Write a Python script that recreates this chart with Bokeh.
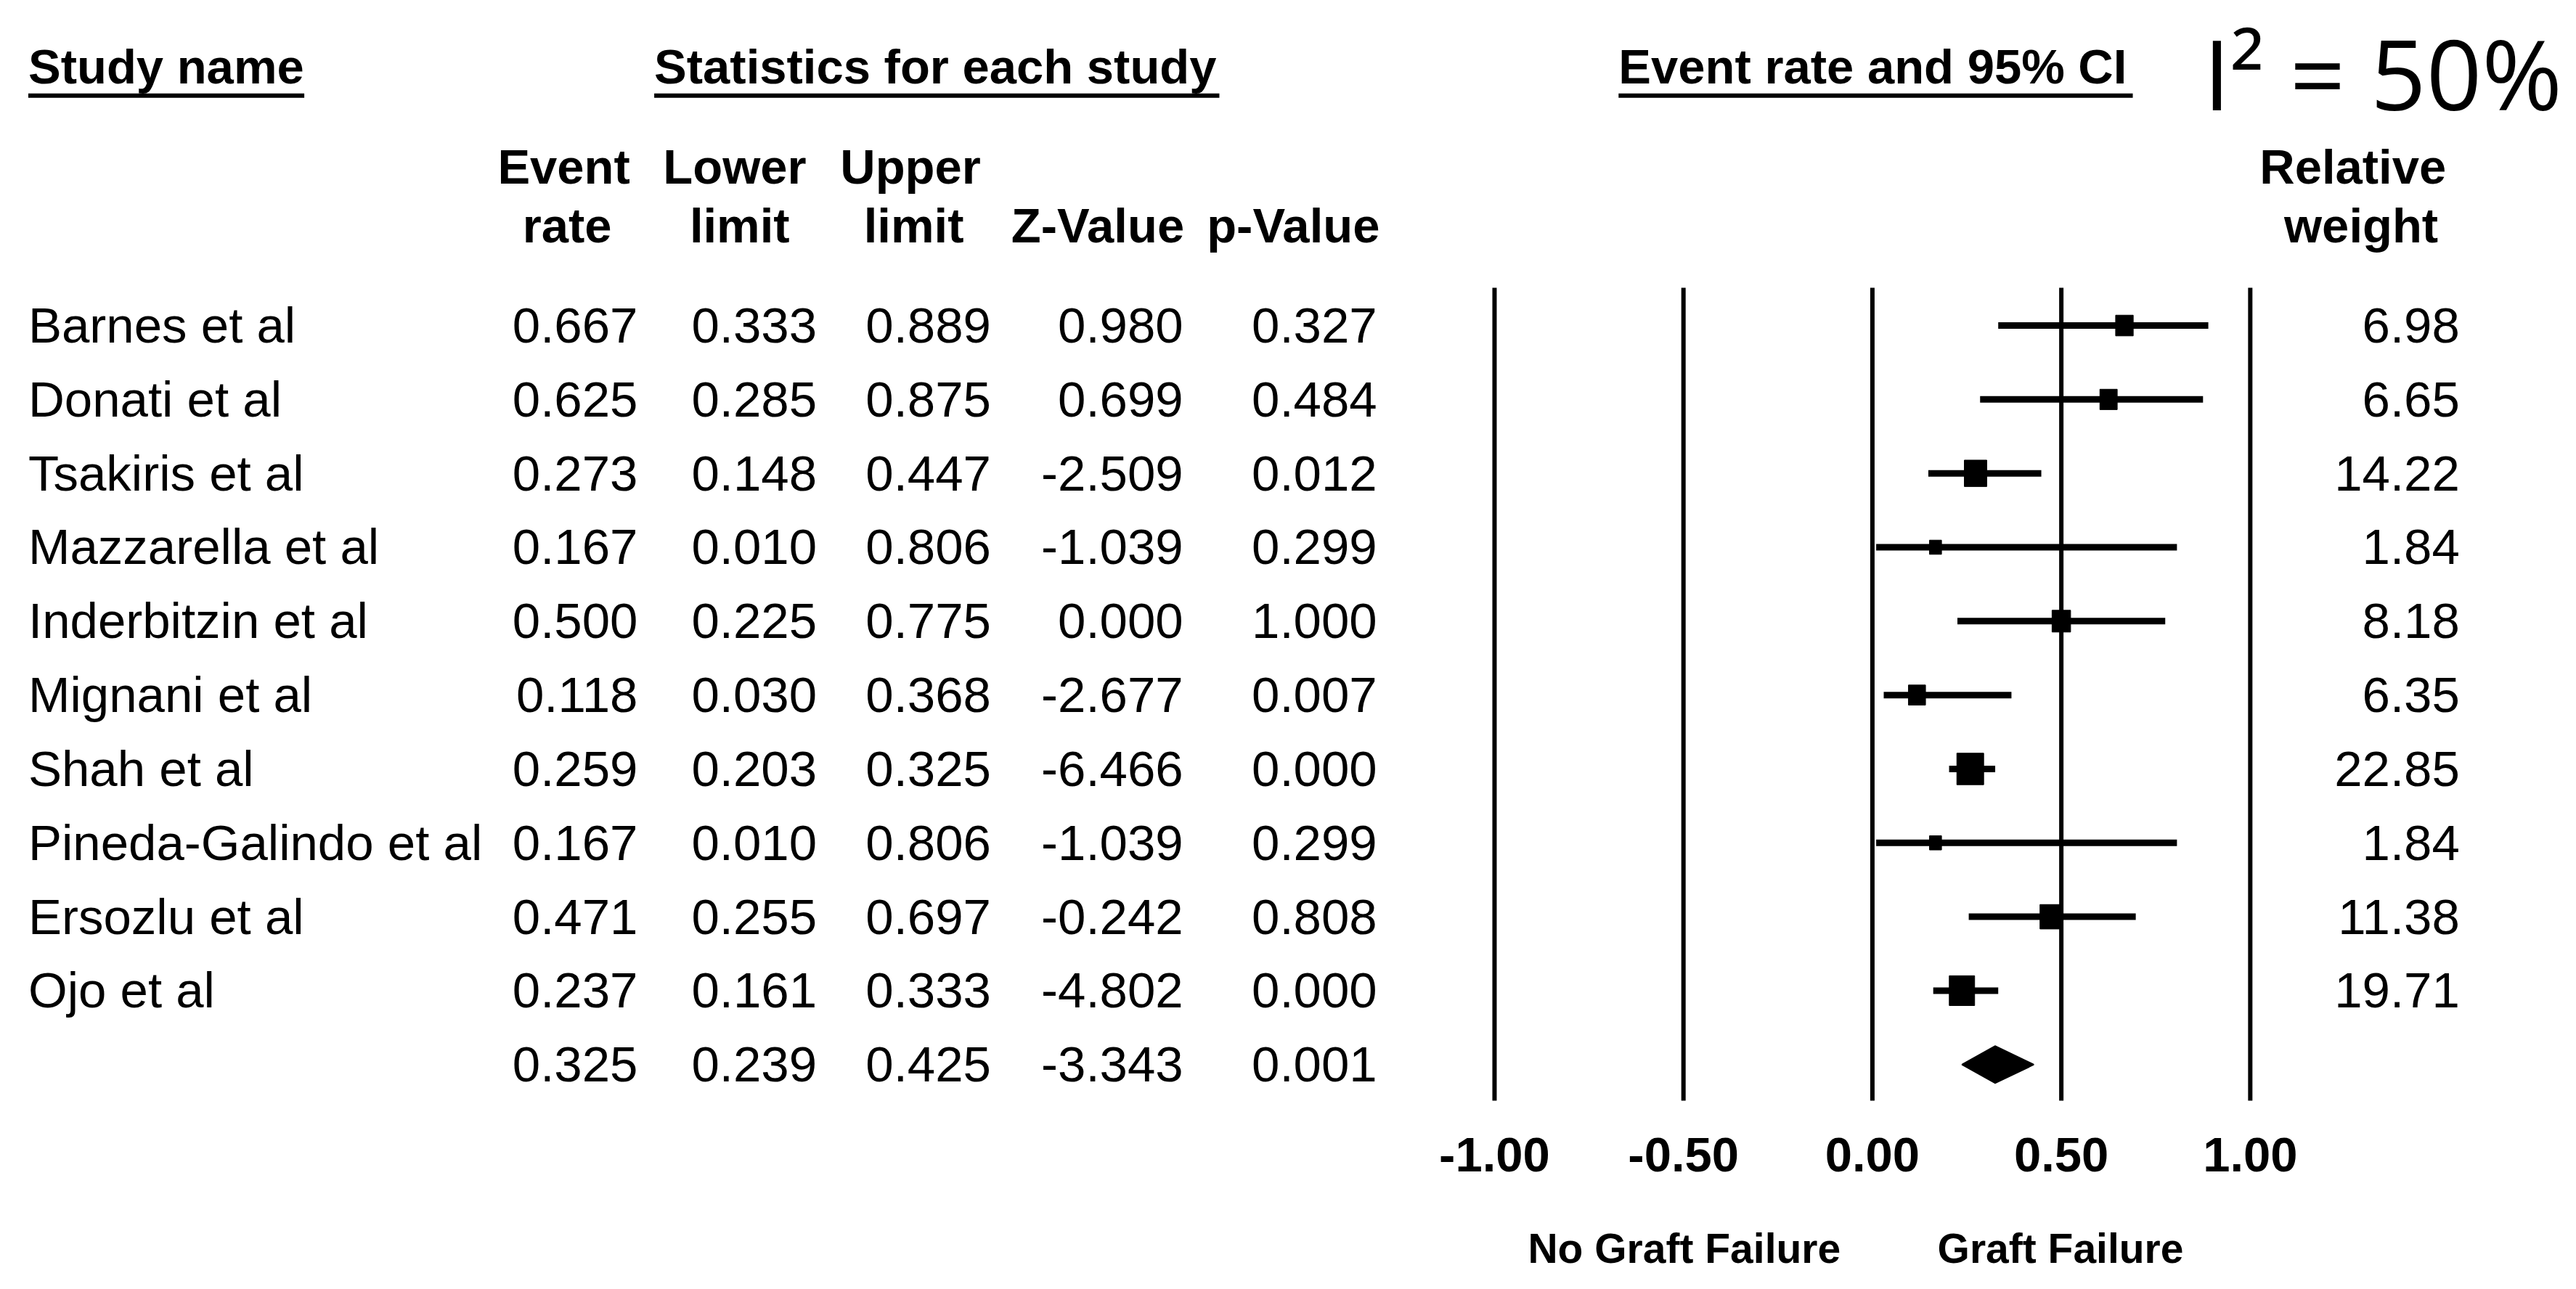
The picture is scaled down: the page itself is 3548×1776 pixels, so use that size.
from bokeh.plotting import figure
from bokeh.models import Range1d
from bokeh.embed import file_html
from bokeh.resources import INLINE
from bokeh.core.properties import value
import math

# ---------------- data ----------------
studies = ["Barnes et al", "Donati et al", "Tsakiris et al", "Mazzarella et al",
           "Inderbitzin et al", "Mignani et al", "Shah et al", "Pineda-Galindo et al",
           "Ersozlu et al", "Ojo et al"]
event_rate = [0.667, 0.625, 0.273, 0.167, 0.500, 0.118, 0.259, 0.167, 0.471, 0.237]
lower_limit = [0.333, 0.285, 0.148, 0.010, 0.225, 0.030, 0.203, 0.010, 0.255, 0.161]
upper_limit = [0.889, 0.875, 0.447, 0.806, 0.775, 0.368, 0.325, 0.806, 0.697, 0.333]
z_value = [0.980, 0.699, -2.509, -1.039, 0.000, -2.677, -6.466, -1.039, -0.242, -4.802]
p_value = [0.327, 0.484, 0.012, 0.299, 1.000, 0.007, 0.000, 0.299, 0.808, 0.000]
rel_weight = [6.98, 6.65, 14.22, 1.84, 8.18, 6.35, 22.85, 1.84, 11.38, 19.71]
summary = {"rate": 0.325, "lower": 0.239, "upper": 0.425, "z": -3.343, "p": 0.001}
ticks = [-1.0, -0.5, 0.0, 0.5, 1.0]
i2_text = "I\u00b2 = 50%"

# ---------------- layout helpers ----------------
W, H = 3532, 1760
S = 3548 / 1568.0           # reference design scale
X0 = 1139.5 * S             # pixel of x = 0
UX = 230 * S                # pixels per unit
Y0 = 198 * S                # pixel of row 0
UY = 45 * S                 # pixels per row


def fx(d):
    return (d * S - X0) / UX


def fy(d):
    return (d * S - Y0) / UY


FONT = value("Liberation Sans")
REG = "69px"
BOLD = "67px"

p = figure(width=W, height=H,
           x_range=Range1d(-X0 / UX, (W - X0) / UX),
           y_range=Range1d((H - Y0) / UY, -Y0 / UY),
           x_axis_type=None, y_axis_type=None,
           toolbar_location=None, output_backend="svg", min_border=0)
p.outline_line_color = None
p.background_fill_color = "white"
p.border_fill_color = "white"

n = len(studies)
rows = list(range(n))
sum_row = n

# ---------------- forest plot ----------------
p.segment(x0=ticks, y0=[fy(175)] * len(ticks), x1=ticks, y1=[fy(670)] * len(ticks),
          line_color="black", line_width=6)

p.segment(x0=lower_limit, y0=rows, x1=upper_limit, y1=rows,
          line_color="black", line_width=9)

sides = [10 + 7.0 * math.sqrt(w) for w in rel_weight]
p.rect(x=event_rate, y=rows, width=[s_ * 0.85 for s_ in sides], height=sides,
       width_units="screen", height_units="screen",
       fill_color="black", line_color="black")

h = 25 / UY
p.patch(x=[summary["lower"], summary["rate"], summary["upper"], summary["rate"]],
        y=[sum_row, sum_row - h, sum_row, sum_row + h],
        fill_color="black", line_color="black", line_width=3, line_join="round")

# tick labels
p.text(x=ticks, y=[fy(703)] * len(ticks), text=[f"{t:.2f}" for t in ticks],
       text_font=FONT, text_font_style="bold", text_font_size=BOLD,
       text_align="center", text_baseline="middle", text_color="black")

p.text(x=[fx(1025), fx(1254)], y=[fy(760)] * 2, text=["No Graft Failure", "Graft Failure"],
       text_font=FONT, text_font_style="bold", text_font_size="57px",
       text_align="center", text_baseline="middle", text_color="black")

# ---------------- table ----------------
p.text(x=[fx(17)] * n, y=rows, text=studies, text_font=FONT, text_font_size=REG,
       text_align="left", text_baseline="middle", text_color="black")

cols = [
    (388, event_rate, summary["rate"]),
    (497, lower_limit, summary["lower"]),
    (603, upper_limit, summary["upper"]),
    (720, z_value, summary["z"]),
    (838, p_value, summary["p"]),
]
for xr, vals, sv in cols:
    txt = [f"{v:.3f}" for v in vals] + [f"{sv:.3f}"]
    p.text(x=[fx(xr)] * (n + 1), y=rows + [sum_row], text=txt, text_font=FONT,
           text_font_size=REG, text_align="right", text_baseline="middle",
           text_color="black")

p.text(x=[fx(1497)] * n, y=rows, text=[f"{w:.2f}" for w in rel_weight],
       text_font=FONT, text_font_size=REG, text_align="right",
       text_baseline="middle", text_color="black")

# headers
titles = ["Study name", "Statistics for each study", "Event rate and 95% CI"]
title_x = [17, 398, 985]
title_x1 = [185, 742, 1298]
p.text(x=[fx(d) for d in title_x], y=[fy(40)] * 3, text=titles, text_font=FONT,
       text_font_style="bold", text_font_size=BOLD, text_align="left",
       text_baseline="middle", text_color="black")
p.segment(x0=[fx(d) for d in title_x], y0=[fy(58)] * 3,
          x1=[fx(d) for d in title_x1], y1=[fy(58)] * 3,
          line_color="black", line_width=6)

head1 = ["Event", "Lower", "Upper", "Relative"]
head1_x = [343, 447, 554, 1432]
head2 = ["rate", "limit", "limit", "Z-Value", "p-Value", "weight"]
head2_x = [345, 450, 556, 668, 787, 1437]
p.text(x=[fx(d) for d in head1_x], y=[fy(101)] * len(head1), text=head1,
       text_font=FONT, text_font_style="bold", text_font_size=BOLD,
       text_align="center", text_baseline="middle", text_color="black")
p.text(x=[fx(d) for d in head2_x], y=[fy(137)] * len(head2), text=head2,
       text_font=FONT, text_font_style="bold", text_font_size=BOLD,
       text_align="center", text_baseline="middle", text_color="black")

p.text(x=[fx(1341)], y=[fy(44)], text=[i2_text], text_font=value("Open Sans"),
       text_font_size="134px", text_align="left", text_baseline="middle",
       text_color="black")

open("out.html", "w").write(file_html(p, INLINE))
